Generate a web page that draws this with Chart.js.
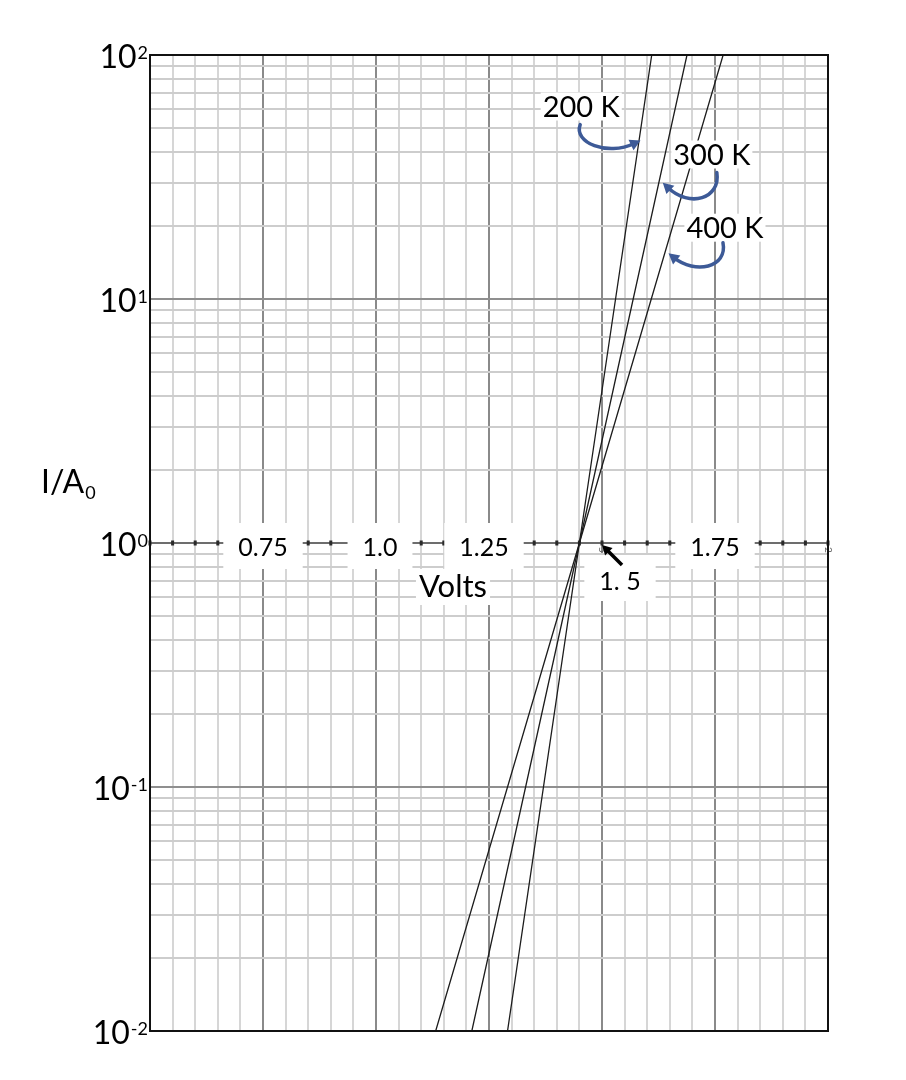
<!DOCTYPE html>
<html>
<head>
<meta charset="utf-8">
<script src="https://cdn.jsdelivr.net/npm/chart.js@4/dist/chart.umd.min.js"></script>
<style>
  html, body { margin: 0; padding: 0; background: #fff; }
  #wrap { width: 906px; height: 1080px; }
</style>
</head>
<body>
<div id="wrap"><canvas id="iv-chart" width="906" height="1080"></canvas></div>
<script>
(function () {
  "use strict";

  // --- data ---
  const currentRatio = [0.01, 1, 100];          // I/A0 at the ends and crossing point
  const volts200K = [1.291, 1.450, 1.610];
  const volts300K = [1.212, 1.450, 1.688];
  const volts400K = [1.132, 1.450, 1.768];
  const tempNames = ["200 K", "300 K", "400 K"];

  // axis ranges / tick labels
  const voltRange = [0.5, 2.0];
  const currentRange = [0.01, 100];
  const decades = [-2, -1, 0, 1, 2];
  const midTickValues = [0.75, 1.0, 1.25, 1.75];
  const midTickText = ["0.75", "1.0", "1.25", "1.75"];
  const arrowTickValue = 1.5;
  const arrowTickText = "1. 5";

  const FONT = "Lato, 'Open Sans', sans-serif";
  const BLUE = "#3d5a97";

  const mkSeries = (volts) => volts.map((v, i) => ({ x: v, y: currentRatio[i] }));

  // grid lines at 1..9 x 10^n
  const yGrid = [];
  decades.forEach((d) => {
    for (let m = 1; m <= 9; m++) {
      const v = m * Math.pow(10, d);
      if (v <= currentRange[1] + 1e-9) yGrid.push(v);
    }
  });

  const isQuarter = (v) => Math.abs(v / 0.25 - Math.round(v / 0.25)) < 1e-6;
  const isDecade = (v) => Math.abs(Math.log10(v) - Math.round(Math.log10(v))) < 1e-6;

  function arrowHead(ctx, tip, ang, size) {
    ctx.beginPath();
    ctx.moveTo(tip[0], tip[1]);
    ctx.lineTo(tip[0] - Math.cos(ang - 0.5) * size, tip[1] - Math.sin(ang - 0.5) * size);
    ctx.lineTo(tip[0] - Math.cos(ang + 0.5) * size, tip[1] - Math.sin(ang + 0.5) * size);
    ctx.closePath();
    ctx.fill();
  }

  function curlyArrow(ctx, ox, oy, pts) {
    const p = pts.map((q) => [ox + q[0], oy + q[1]]);
    ctx.strokeStyle = BLUE;
    ctx.fillStyle = BLUE;
    ctx.lineWidth = 3.5;
    ctx.lineCap = "round";
    ctx.beginPath();
    ctx.moveTo(p[0][0], p[0][1]);
    ctx.bezierCurveTo(p[1][0], p[1][1], p[2][0], p[2][1], p[3][0], p[3][1]);
    ctx.stroke();
    const ang = Math.atan2(p[3][1] - p[2][1], p[3][0] - p[2][0]);
    const tip = [p[3][0] + Math.cos(ang) * 7, p[3][1] + Math.sin(ang) * 7];
    arrowHead(ctx, tip, ang, 12);
  }

  // label anchors (data units) and arrow shapes (pixels from label centre)
  const tempLabelV = [1.454, 1.743, 1.772];
  const tempLabelI = [61.5, 39.1, 19.6];
  const tempArrows = [
    [[-1, 18], [-8, 36], [26, 50], [53, 37]],
    [[5, 18], [9, 44], [-22, 54], [-44, 33]],
    [[-2, 15], [3, 40], [-30, 47], [-51, 30]]
  ];

  const paperPlugin = {
    id: "paper",
    beforeDatasetsDraw(chart) {
      const { ctx, chartArea: a, scales: { x, y } } = chart;
      const y0 = y.getPixelForValue(1);
      ctx.save();

      // axis drawn through I/A0 = 1
      ctx.strokeStyle = "#6d6d6d";
      ctx.lineWidth = 2;
      ctx.beginPath();
      ctx.moveTo(a.left, y0);
      ctx.lineTo(a.right, y0);
      ctx.stroke();
      ctx.fillStyle = "#2a2a2a";
      x.ticks.forEach((t) => {
        const px = x.getPixelForValue(t.value);
        ctx.fillRect(px - 1.5, y0 - 2.5, 3, 5);
      });

      // small rotated leftovers of the old axis labels
      ctx.fillStyle = "#666";
      ctx.font = "10px " + FONT;
      ctx.textAlign = "center";
      ctx.textBaseline = "middle";
      [[arrowTickValue, "5"], [voltRange[1], "2"]].forEach(([v, s]) => {
        ctx.save();
        ctx.translate(x.getPixelForValue(v), y0 + 7);
        ctx.rotate(Math.PI / 2);
        ctx.fillText(s, 0, 0);
        ctx.restore();
      });

      // white boxes with tick labels
      ctx.font = "25px " + FONT;
      midTickValues.forEach((v, i) => {
        const px = x.getPixelForValue(v) + (v === 1.0 ? 4 : v === 1.25 ? -5 : 0);
        const w = ctx.measureText(midTickText[i]).width + 30;
        ctx.fillStyle = "#fff";
        ctx.fillRect(px - w / 2, y0 - 20, w, 46);
        ctx.fillStyle = "#000";
        ctx.fillText(midTickText[i], px, y0 + 5);
      });

      // "Volts"
      const vx = x.getPixelForValue(1.25) - 36;
      ctx.font = "31px " + FONT;
      const vw = ctx.measureText("Volts").width + 6;
      ctx.fillStyle = "#fff";
      ctx.fillRect(vx - vw / 2, y0 + 26, vw, 36);
      ctx.fillStyle = "#000";
      ctx.fillText("Volts", vx, y0 + 44);

      // "1. 5" below the axis with black arrow
      const ax = x.getPixelForValue(arrowTickValue);
      ctx.font = "25px " + FONT;
      const bw = ctx.measureText(arrowTickText).width + 30;
      ctx.fillStyle = "#fff";
      ctx.fillRect(ax + 18 - bw / 2, y0 + 12, bw, 46);
      ctx.fillStyle = "#000";
      ctx.fillText(arrowTickText, ax + 18, y0 + 39);
      ctx.strokeStyle = "#000";
      ctx.lineWidth = 3.5;
      ctx.lineCap = "butt";
      ctx.beginPath();
      ctx.moveTo(ax + 20, y0 + 22);
      ctx.lineTo(ax + 6, y0 + 8);
      ctx.stroke();
      arrowHead(ctx, [ax, y0 + 2], Math.atan2(-1, -1), 11);

      ctx.restore();
    },
    afterDraw(chart) {
      const { ctx, chartArea: a, scales: { x, y } } = chart;
      ctx.save();

      // frame
      ctx.strokeStyle = "#111";
      ctx.lineWidth = 2;
      ctx.strokeRect(a.left, a.top, a.right - a.left, a.bottom - a.top);

      // 10^n labels
      ctx.fillStyle = "#000";
      ctx.textBaseline = "alphabetic";
      ctx.textAlign = "right";
      decades.forEach((d) => {
        const py = y.getPixelForValue(Math.pow(10, d));
        const exp = String(d);
        ctx.font = "18px " + FONT;
        const ew = ctx.measureText(exp).width;
        ctx.fillText(exp, a.left - 2, py + 4);
        ctx.font = "32px " + FONT;
        ctx.fillText("10", a.left - 3 - ew, py + 13);
      });

      // I/A0 title
      ctx.textAlign = "left";
      ctx.font = "32px " + FONT;
      ctx.fillText("I/A", 41, 493);
      const tw = ctx.measureText("I/A").width;
      ctx.font = "18px " + FONT;
      ctx.fillText("0", 41 + tw + 1, 499);

      // temperature labels with curly arrows
      ctx.textAlign = "center";
      ctx.textBaseline = "middle";
      tempNames.forEach((name, i) => {
        const px = x.getPixelForValue(tempLabelV[i]);
        const py = y.getPixelForValue(tempLabelI[i]);
        ctx.font = "29px " + FONT;
        ctx.fillStyle = "#fff";
        const w = ctx.measureText(name).width;
        ctx.fillRect(px - w / 2 - 2, py - 14, w + 4, 28);
        ctx.fillStyle = "#000";
        ctx.fillText(name, px, py + 1);
        curlyArrow(ctx, px, py, tempArrows[i]);
      });

      ctx.restore();
    }
  };

  const lineStyle = {
    showLine: true,
    borderColor: "#1c1c1c",
    borderWidth: 1.3,
    pointRadius: 0,
    fill: false,
    tension: 0
  };

  new Chart(document.getElementById("iv-chart"), {
    type: "scatter",
    data: {
      datasets: [
        Object.assign({ label: tempNames[0], data: mkSeries(volts200K) }, lineStyle),
        Object.assign({ label: tempNames[1], data: mkSeries(volts300K) }, lineStyle),
        Object.assign({ label: tempNames[2], data: mkSeries(volts400K) }, lineStyle)
      ]
    },
    options: {
      responsive: false,
      animation: false,
      layout: { padding: { left: 150, top: 55, right: 78, bottom: 49 } },
      plugins: { legend: { display: false }, tooltip: { enabled: false } },
      scales: {
        x: {
          type: "linear",
          min: voltRange[0],
          max: voltRange[1],
          ticks: { display: false, stepSize: 0.05 },
          border: { display: false },
          grid: {
            drawTicks: false,
            lineWidth: 2,
            color: (c) => (isQuarter(c.tick.value) ? "#8a8a8a" : "#d6d6d6")
          }
        },
        y: {
          type: "logarithmic",
          min: currentRange[0],
          max: currentRange[1],
          afterBuildTicks: (scale) => {
            scale.ticks = yGrid.map((v) => ({ value: v }));
          },
          ticks: { display: false },
          border: { display: false },
          grid: {
            drawTicks: false,
            lineWidth: 2,
            color: (c) => (isDecade(c.tick.value) ? "#8f8f8f" : "#cdcdcd")
          }
        }
      }
    },
    plugins: [paperPlugin]
  });
})();
</script>
</body>
</html>
